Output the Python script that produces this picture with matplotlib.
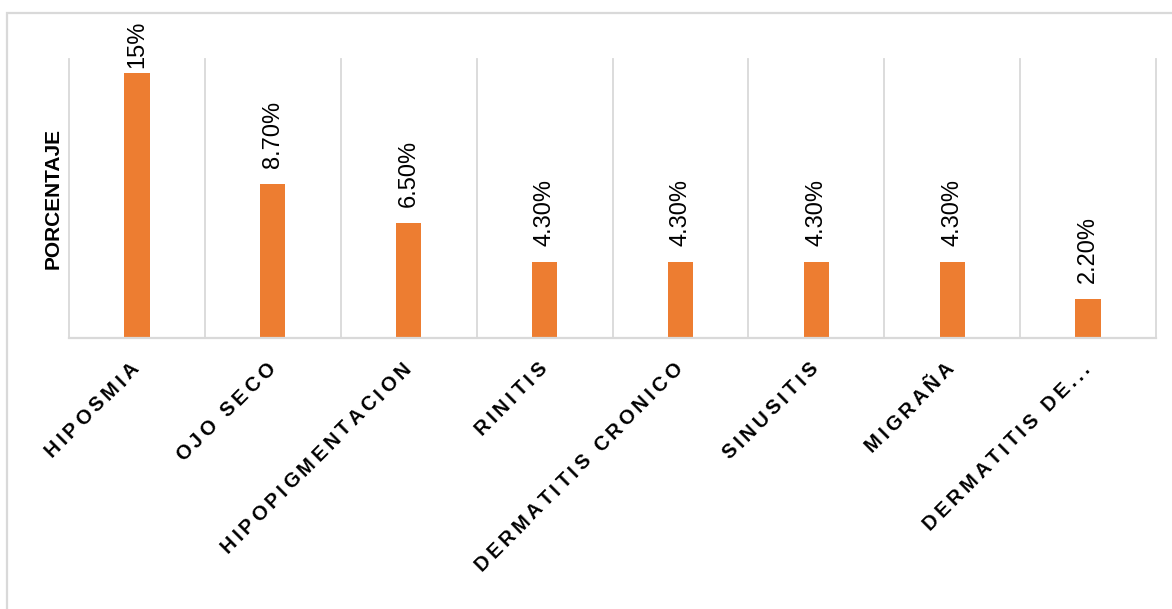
import numpy as np
import matplotlib
matplotlib.use('Agg')
from matplotlib import pyplot as plt
from matplotlib import transforms
from matplotlib.font_manager import FontProperties
from matplotlib.patches import Rectangle

categorias = ['HIPOSMIA', 'OJO SECO', 'HIPOPIGMENTACION', 'RINITIS',
              'DERMATITIS CRONICO', 'SINUSITIS', 'MIGRAÑA', 'DERMATITIS DE...']
porcentajes = [15.0, 8.7, 6.5, 4.3, 4.3, 4.3, 4.3, 2.2]
etiquetas = ['15%', '8.70%', '6.50%', '4.30%', '4.30%', '4.30%', '4.30%', '2.20%']

plt.rcParams['font.family'] = ['Liberation Sans', 'DejaVu Sans']

DPI = 100
W, H = 1172, 609
fig = plt.figure(figsize=(W / DPI, H / DPI), dpi=DPI)
ax = fig.add_axes([69 / W, 271 / H, (1156 - 69) / W, (550 - 271) / H])

x = np.arange(len(categorias))
ax.bar(x, porcentajes, width=0.185, color='#ED7D31', zorder=3)
ax.set_xlim(-0.5, len(categorias) - 0.5)
ax.set_ylim(0, 15.8)

# separadores de categoria
for b in np.arange(len(categorias) + 1) - 0.5:
    ax.axvline(b, color='#d9d9d9', lw=1.3, zorder=1, clip_on=False)

for s in ['top', 'right', 'left']:
    ax.spines[s].set_visible(False)
ax.spines['bottom'].set_color('#d9d9d9')
ax.spines['bottom'].set_linewidth(1.6)
ax.spines['bottom'].set_zorder(4)
ax.set_xticks([])
ax.set_yticks([])

# etiquetas de valor
for xi, v, t in zip(x, porcentajes, etiquetas):
    gap = 5 if v == max(porcentajes) else 16
    ax.annotate(t, (xi, v), xytext=(0, gap * 72 / DPI), textcoords='offset points',
                rotation=90, ha='center', va='bottom', fontsize=17, color='#000000')

fig.text(53 / W, 1 - 198 / H, 'PORCENTAJE', rotation=90, ha='center', va='center',
         fontsize=15, fontweight='bold')

# etiquetas del eje x a 45 grados con espaciado entre letras
prop = FontProperties(family=['Liberation Sans'], weight='bold', size=14.5)
renderer = fig.canvas.get_renderer()


def ancho(s):
    return renderer.get_text_width_height_descent(s, prop, ismath=False)[0]


espacio = 3.6   # px extra entre letras
ang = np.deg2rad(45)
ux, uy = np.cos(ang), np.sin(ang)
base = transforms.blended_transform_factory(ax.transData, ax.transAxes)
ref = ancho('HH')
for xi, cat in zip(x, categorias):
    avances = [ancho('H' + c + 'H') - ref for c in cat]
    total = sum(avances) + espacio * (len(cat) - 1)
    ex, ey = 3, -32   # fin de la linea base respecto al tick, px
    acum = 0.0
    for c, a in zip(cat, avances):
        s = -(total - (acum + a / 2))
        ox, oy = ex + s * ux, ey + s * uy
        tr = base + transforms.ScaledTranslation(ox / DPI, oy / DPI, fig.dpi_scale_trans)
        ax.text(xi, 0, c, transform=tr, fontproperties=prop, rotation=45,
                rotation_mode='anchor', ha='center', va='baseline', clip_on=False)
        acum += a + espacio

# marco del grafico
fig.patches.append(Rectangle((7 / W, -0.1), 1.2, 1.1 - 13 / H, transform=fig.transFigure,
                             fill=False, ec='#d9d9d9', lw=1.6))

fig.savefig('out.png', dpi=DPI, facecolor='white')
